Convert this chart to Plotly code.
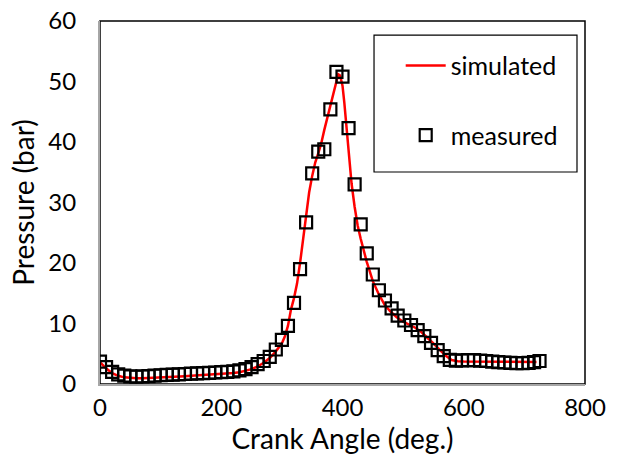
import plotly.graph_objects as go

# ---- data ----
sim_angle = [0, 10, 20, 30, 40, 50, 60, 70, 80, 90, 100, 110, 120, 130, 140, 150, 160, 170, 180,
             190, 200, 210, 220, 230, 240, 250, 260, 270, 280, 290, 300, 305, 310, 315, 320, 325,
             330, 335, 340, 345, 350, 355, 360, 365, 370, 375, 380, 385, 390, 393, 396, 400, 403,
             407, 410, 415, 420, 425, 430, 435, 440, 445, 450, 460, 470, 480, 490, 500, 510, 520,
             530, 540, 550, 560, 570, 580, 590, 600, 620, 640, 660, 680, 700, 720]
sim_pressure = [3.6, 2.6, 1.8, 1.35, 1.1, 1.0, 0.95, 0.97, 1.0, 1.05, 1.1, 1.15, 1.2, 1.25, 1.3,
                1.35, 1.4, 1.45, 1.5, 1.55, 1.6, 1.7, 1.8, 1.95, 2.15, 2.45, 2.9, 3.5, 4.3, 5.4,
                6.7, 7.9, 9.6, 12.3, 14.2, 16.6, 20.0, 23.7, 28.2, 31.7, 34.4, 36.6, 38.1, 39.8,
                42.0, 44.0, 45.9, 48.2, 50.3, 51.2, 51.0, 49.3, 46.5, 42.4, 38.5, 33.1, 29.3,
                26.2, 24.0, 22.0, 20.2, 18.6, 17.0, 14.8, 13.0, 11.9, 11.0, 10.3, 9.8, 9.3, 8.6,
                7.7, 6.7, 5.7, 4.7, 3.95, 3.75, 3.7, 3.7, 3.65, 3.6, 3.6, 3.6, 3.65]

meas_angle = [0, 10, 20, 30, 40, 50, 60, 70, 80, 90, 100, 110, 120, 130, 140, 150, 160, 170, 180,
              190, 200, 210, 220, 230, 240, 250, 260, 270, 280, 290, 300, 310, 320, 330, 340, 350,
              360, 370, 380, 390, 400, 410, 420, 430, 440, 450, 460, 470, 481, 491, 502, 513, 524,
              535, 546, 557, 567, 577, 587, 597, 607, 617, 627, 637, 647, 657, 667, 677, 687, 697,
              707, 716, 725]
meas_pressure = [3.7, 2.8, 2.0, 1.6, 1.4, 1.25, 1.2, 1.25, 1.3, 1.4, 1.45, 1.5, 1.55, 1.6, 1.65,
                 1.7, 1.75, 1.8, 1.85, 1.9, 1.95, 2.0, 2.1, 2.25, 2.45, 2.8, 3.3, 3.8, 4.5, 5.7,
                 7.3, 9.6, 13.4, 19.0, 26.7, 34.8, 38.4, 38.8, 45.4, 51.6, 50.8, 42.3, 33.0, 26.4,
                 21.6, 18.1, 15.5, 13.8, 12.5, 11.3, 10.5, 9.75, 8.9, 7.9, 6.8, 5.6, 4.6, 4.0,
                 3.85, 3.9, 3.95, 3.95, 3.85, 3.8, 3.7, 3.6, 3.55, 3.5, 3.45, 3.45, 3.5, 3.6, 3.8]

x_ticks = [0, 200, 400, 600, 800]
y_ticks = [0, 10, 20, 30, 40, 50, 60]

FONT = "Lato, 'Open Sans', sans-serif"

fig = go.Figure()
fig.add_trace(go.Scatter(
    x=sim_angle, y=sim_pressure, mode="lines", name="simulated",
    line=dict(color="#FF0000", width=2.5), legendgroup="a"))
fig.add_trace(go.Scatter(
    x=meas_angle, y=meas_pressure, mode="markers", name="measured",
    marker=dict(symbol="square-open", size=12, color="black", line=dict(width=2.2, color="black")),
    legendgroup="b"))

fig.update_layout(
    width=619, height=467,
    margin=dict(l=100, r=34, t=21, b=83, autoexpand=False),
    paper_bgcolor="white", plot_bgcolor="white",
    font=dict(family=FONT, size=24, color="black"),
    showlegend=True,
    legend=dict(x=0.62, y=0.94, xanchor="left", yanchor="top",
                bgcolor="rgba(0,0,0,0)", borderwidth=0,
                font=dict(family=FONT, size=25, color="black"),
                traceorder="grouped", tracegroupgap=34, itemwidth=40),
    shapes=[
        dict(type="rect", xref="paper", yref="paper", x0=0, x1=1, y0=0, y1=1,
             line=dict(color="black", width=1.5), layer="below"),
        dict(type="rect", xref="paper", yref="paper", x0=0.565, x1=0.9835, y0=0.584, y1=0.961,
             line=dict(color="black", width=1.2), fillcolor="white", layer="below"),
    ],
)
fig.update_xaxes(
    range=[0, 800], tickvals=x_ticks, showgrid=False, zeroline=False,
    showline=True, linecolor="#A6A6A6", linewidth=2,
    ticks="outside", ticklen=1, tickcolor="rgba(0,0,0,0)",
    tickfont=dict(family=FONT, size=24, color="black"),
    title=dict(text="Crank Angle (deg.)", font=dict(family=FONT, size=28, color="black"), standoff=8),
    automargin=False)
fig.update_yaxes(
    range=[0, 60], tickvals=y_ticks, showgrid=False, zeroline=False,
    showline=True, linecolor="#A6A6A6", linewidth=2,
    ticks="outside", ticklen=17, tickcolor="rgba(0,0,0,0)",
    tickfont=dict(family=FONT, size=24, color="black"),
    title=dict(text="Pressure (bar)", font=dict(family=FONT, size=28, color="black"), standoff=6),
    automargin=False)

fig.write_html("out.html")
